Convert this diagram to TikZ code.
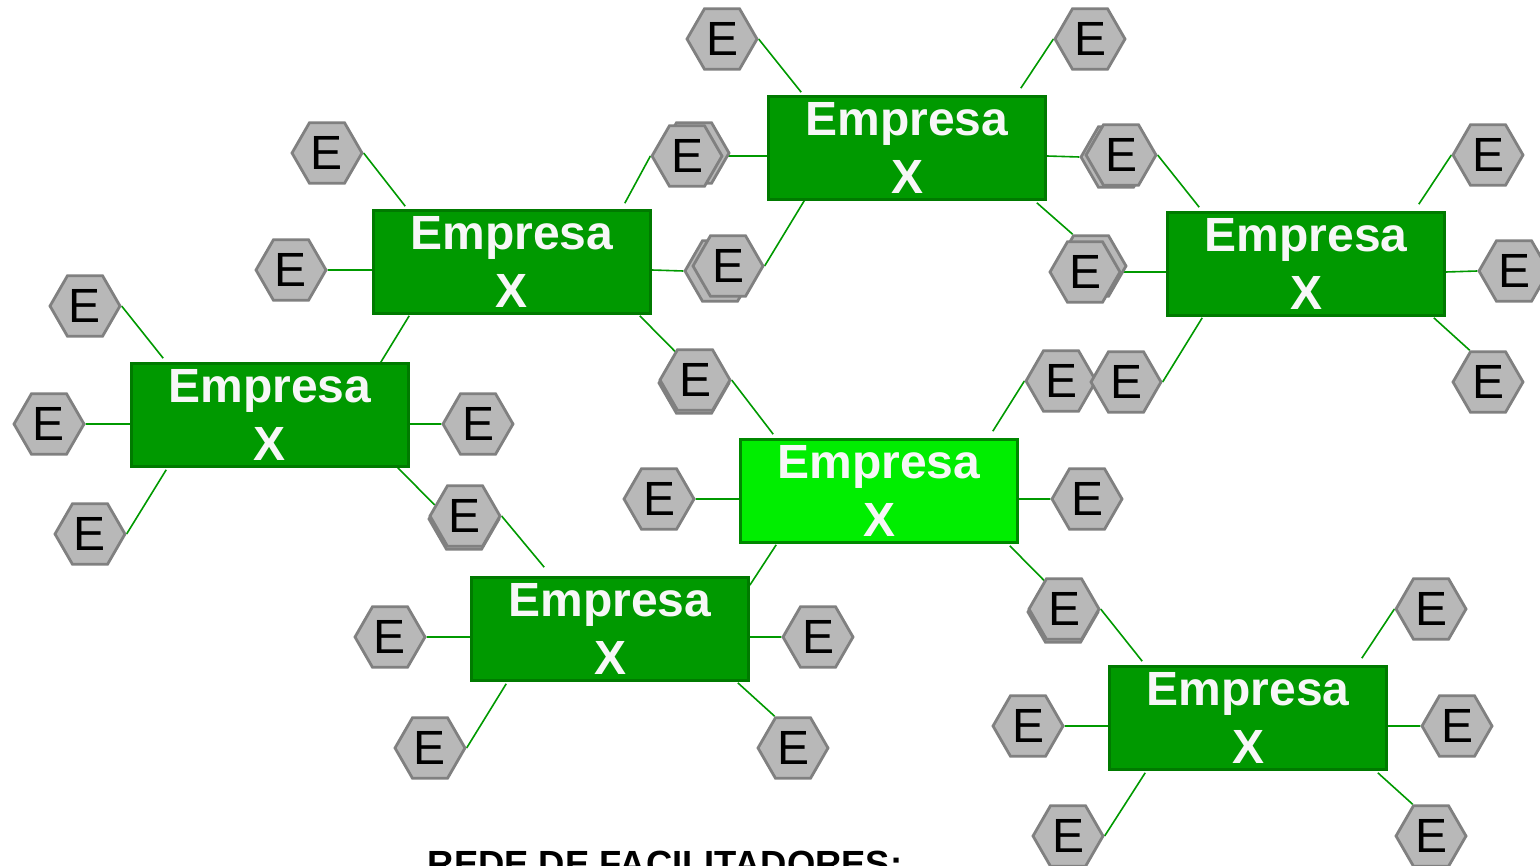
\documentclass[tikz,border=0pt]{standalone}
\usepackage{fontspec}
\setmainfont{Liberation Sans}
\usetikzlibrary{shapes.geometric,calc,backgrounds}

\definecolor{boxfill}{HTML}{009900}
\definecolor{boxline}{HTML}{007A00}
\definecolor{hubfill}{HTML}{00EE00}
\definecolor{hubline}{HTML}{008800}
\definecolor{hexfill}{HTML}{B8B8B8}
\definecolor{hexline}{HTML}{808080}
\definecolor{linkcol}{HTML}{009900}
\definecolor{labelwhite}{HTML}{F7F7F7}

\tikzset{
  firm/.style={rectangle, draw=boxline, fill=boxfill, line width=1.3pt,
    minimum width=138.5pt, minimum height=51.5pt, inner sep=0pt,
    align=center, text=labelwhite, font=\bfseries\fontsize{24}{29}\selectfont},
  hub/.style={firm, fill=hubfill, draw=hubline},
  ent/.style={regular polygon, regular polygon sides=6, minimum size=35pt,
    inner sep=0pt, draw=hexline, fill=hexfill, line width=1.4pt,
    font=\fontsize{24}{24}\selectfont},
  link/.style={draw=linkcol, line width=0.8pt},
}

\begin{document}
\begin{tikzpicture}[x=0.5pt,y=-0.5pt]
\path[use as bounding box] (0,0) rectangle (1540,866);
\clip (0,0) rectangle (1540,866);

% companies
\node[firm] (b1) at (907,148) {Empresa\\X};
\node[firm] (b2) at (512,262) {Empresa\\X};
\node[firm] (b3) at (1306,264) {Empresa\\X};
\node[firm] (b4) at (270,415) {Empresa\\X};
\node[hub]  (b5) at (879,491) {Empresa\\X};
\node[firm] (b6) at (610,629) {Empresa\\X};
\node[firm] (b7) at (1248,718) {Empresa\\X};

% stacked hexagons (back copies first)
\node[ent] (h3b) at (694,153) {E};
\node[ent] (h4b) at (1116,157) {E};
\node[ent] (h5b) at (720,271) {E};
\node[ent] (h6b) at (1091,266) {E};
\node[ent] (h9b) at (694,383) {E};
\node[ent] (h18b) at (464,519) {E};
\node[ent] (h22b) at (1063,612) {E};

% partner hexagons
\node[ent] (h1) at (722,39) {E};
\node[ent] (h2) at (1090,39) {E};
\node[ent] (h3) at (687,156) {E};
\node[ent] (h4) at (1121,155) {E};
\node[ent] (h5) at (728,266) {E};
\node[ent] (h6) at (1085,272) {E};
\node[ent] (h7) at (327,153) {E};
\node[ent] (h8) at (291,270) {E};
\node[ent] (h9) at (695,380) {E};
\node[ent] (h10) at (1488,155) {E};
\node[ent] (h11) at (1514,271) {E};
\node[ent] (h19) at (1061,381) {E};
\node[ent] (h12) at (1126,382) {E};
\node[ent] (h13) at (1488,382) {E};
\node[ent] (h14) at (85,306) {E};
\node[ent] (h15) at (49,424) {E};
\node[ent] (h16) at (478,424) {E};
\node[ent] (h17) at (90,534) {E};
\node[ent] (h18) at (465,516) {E};
\node[ent] (h20) at (659,499) {E};
\node[ent] (h21) at (1087,499) {E};
\node[ent] (h22) at (1064,609) {E};
\node[ent] (h23) at (390,637) {E};
\node[ent] (h24) at (818,637) {E};
\node[ent] (h25) at (430,748) {E};
\node[ent] (h26) at (793,748) {E};
\node[ent] (h27) at (1431,609) {E};
\node[ent] (h28) at (1028,726) {E};
\node[ent] (h29) at (1457,726) {E};
\node[ent] (h30) at (1068,836) {E};
\node[ent] (h31) at (1431,836) {E};

% connectors, behind everything
\begin{scope}[on background layer]
  % b1
  \draw[link] (h1.east) -- ($(b1.north west)+(34,-3)$);
  \draw[link] (h2.west) -- ($(b1.north east)+(-26,-7)$);
  \draw[link] (h3.east) -- ($(b1.west)+(0,8)$);
  \draw[link] ($(b1.east)+(0,8)$) -- (h4b.west);
  \draw[link] ($(b1.south west)+(37,0)$) -- (h5.east);
  \draw[link] ($(b1.south east)+(-10,2)$) -- (h6b.120);
  % b2
  \draw[link] (h7.east) -- ($(b2.north west)+(33,-3)$);
  \draw[link] (h3.west) -- ($(b2.north east)+(-27,-6)$);
  \draw[link] (h8.east) -- ($(b2.west)+(0,8)$);
  \draw[link] ($(b2.east)+(0,8)$) -- (h5b.west);
  \draw[link] ($(b2.south west)+(37,1)$) -- ($(b4.north east)+(-29,0)$);
  \draw[link] ($(b2.south east)+(-12,1)$) -- (h9.125);
  % b3
  \draw[link] (h4.east) -- ($(b3.north west)+(33,-4)$);
  \draw[link] (h10.west) -- ($(b3.north east)+(-27,-7)$);
  \draw[link] (h6.east) -- ($(b3.west)+(0,8)$);
  \draw[link] ($(b3.east)+(0,8)$) -- (h11.west);
  \draw[link] ($(b3.south west)+(36,1)$) -- (h12.east);
  \draw[link] ($(b3.south east)+(-12,1)$) -- (h13.120);
  % b4
  \draw[link] (h14.east) -- ($(b4.north west)+(33,-4)$);
  \draw[link] (h15.east) -- ($(b4.west)+(0,9)$);
  \draw[link] ($(b4.east)+(0,9)$) -- (h16.west);
  \draw[link] ($(b4.south west)+(36,2)$) -- (h17.east);
  \draw[link] ($(b4.south east)+(-12,0)$) -- (h18.160);
  % b5
  \draw[link] (h9.east) -- ($(b5.north west)+(34,-4)$);
  \draw[link] (h19.west) -- ($(b5.north east)+(-26,-7)$);
  \draw[link] (h20.east) -- ($(b5.west)+(0,8)$);
  \draw[link] ($(b5.east)+(0,8)$) -- (h21.west);
  \draw[link] ($(b5.south west)+(37,1)$) -- ($(b6.north east)+(0,9)$);
  \draw[link] ($(b5.south east)+(-9,2)$) -- (h22.125);
  % b6
  \draw[link] (h18.east) -- ($(b6.north west)+(74,-9)$);
  \draw[link] (h23.east) -- ($(b6.west)+(0,8)$);
  \draw[link] ($(b6.east)+(0,8)$) -- (h24.west);
  \draw[link] ($(b6.south west)+(36,2)$) -- (h25.east);
  \draw[link] ($(b6.south east)+(-12,1)$) -- (h26.120);
  % b7
  \draw[link] (h22.east) -- ($(b7.north west)+(34,-4)$);
  \draw[link] (h27.west) -- ($(b7.north east)+(-26,-7)$);
  \draw[link] (h28.east) -- ($(b7.west)+(0,8)$);
  \draw[link] ($(b7.east)+(0,8)$) -- (h29.west);
  \draw[link] ($(b7.south west)+(37,2)$) -- (h30.east);
  \draw[link] ($(b7.south east)+(-10,2)$) -- (h31.120);
\end{scope}

% caption, partly below the page edge
\node[anchor=base, font=\bfseries\fontsize{18.2}{20}\selectfont] (title) at (665,876) {REDE DE FACILITADORES:};
\end{tikzpicture}
\end{document}
